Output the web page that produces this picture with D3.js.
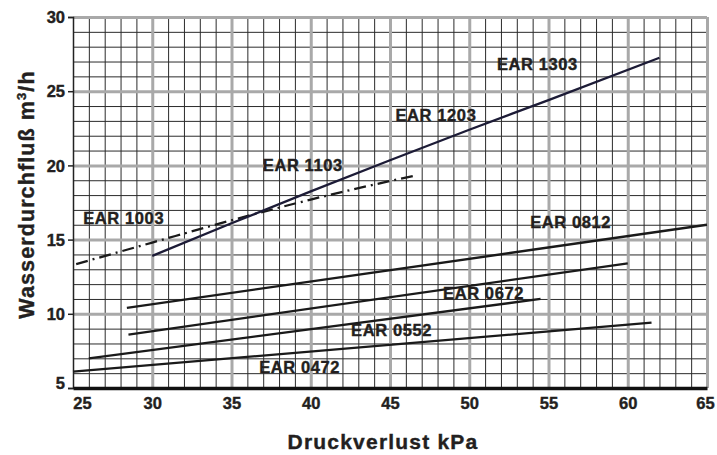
<!DOCTYPE html>
<html>
<head>
<meta charset="utf-8">
<script src="https://cdn.jsdelivr.net/npm/d3@7"></script>
<style>
  body { margin: 0; background: #fff; }
  text { font-family: "Liberation Sans", Arial, sans-serif; font-weight: bold; fill: #231f20; }
</style>
</head>
<body>
<div id="chart"></div>
<script>
// Data (Druckverlust kPa -> Wasserdurchfluss m3/h)
const xTicks = [25, 30, 35, 40, 45, 50, 55, 60, 65]
const yTicks = [5, 10, 15, 20, 25, 30]

const dp0472 = [25, 61.5],  q0472 = [6.1, 9.4]
const dp0552 = [26, 54.5],  q0552 = [7.0, 11.0]
const dp0672 = [28.5, 60],  q0672 = [8.6, 13.4]
const dp0812 = [28.4, 65],  q0812 = [10.4, 16.0]
// EAR 1003 / 1103 (dash-dot)
const dp1003 = [25.2, 30, 35, 40, 46.5], q1003 = [13.35, 14.8, 16.3, 17.7, 19.3]
// EAR 1103 / 1203 / 1303 (solid)
const dp1303 = [30, 35, 40, 45, 50, 55, 62], q1303 = [13.9, 16.1, 18.25, 20.35, 22.4, 24.4, 27.25]

const labels = ['EAR 1303', 'EAR 1203', 'EAR 1103', 'EAR 1003', 'EAR 0812', 'EAR 0672', 'EAR 0552', 'EAR 0472']
const labelDp = [54.3, 47.9, 39.5, 28.2, 56.4, 50.9, 45.1, 39.3]
const labelQ = [26.8, 23.4, 20.0, 16.45, 16.15, 11.4, 8.9, 6.4]

const width = 717,
      height = 455,
      mLeft = 73, mRight = 707, mTop = 17, mBottom = 388

let svg = d3.select('#chart')
  .append('svg')
  .attr('width', width)
  .attr('height', height)

let x = d3.scaleLinear().domain([25, 65]).range([mLeft, mRight])
let y = d3.scaleLinear().domain([5, 30]).range([mBottom, mTop])

// minor grid
svg.append('g')
  .attr('transform', `translate(0,${mBottom})`)
  .call(d3.axisBottom(x).tickValues(d3.range(26, 65)).tickSize(-(mBottom - mTop)).tickFormat(''))
  .call(g => g.select('.domain').remove())
  .selectAll('line').attr('stroke', '#2b2b2b').attr('stroke-width', 1)

svg.append('g')
  .attr('transform', `translate(${mLeft},0)`)
  .call(d3.axisLeft(y).tickValues(d3.range(6, 30)).tickSize(-(mRight - mLeft)).tickFormat(''))
  .call(g => g.select('.domain').remove())
  .selectAll('line').attr('stroke', '#2b2b2b').attr('stroke-width', 1)

// major grid
svg.append('g')
  .attr('transform', `translate(0,${mBottom})`)
  .call(d3.axisBottom(x).tickValues(xTicks.slice(1)).tickSize(-(mBottom - mTop)).tickFormat(''))
  .call(g => g.select('.domain').remove())
  .selectAll('line').attr('stroke', '#a9a9a9').attr('stroke-width', 3)

svg.append('g')
  .attr('transform', `translate(${mLeft},0)`)
  .call(d3.axisLeft(y).tickValues(yTicks.slice(1)).tickSize(-(mRight - mLeft)).tickFormat(''))
  .call(g => g.select('.domain').remove())
  .selectAll('line').attr('stroke', '#a9a9a9').attr('stroke-width', 3)

let styleTick = sel => sel
  .attr('font-size', 16.5)
  .attr('font-weight', 'bold')
  .attr('fill', '#231f20')
  .attr('stroke', '#231f20')
  .attr('stroke-width', 0.4)
  .attr('font-family', '"Liberation Sans", Arial, sans-serif')

// left axis with ticks and labels
svg.append('g')
  .attr('transform', `translate(${mLeft},0)`)
  .call(d3.axisLeft(y).tickValues(yTicks).tickSize(5).tickPadding(3))
  .call(g => g.select('.domain').attr('stroke', '#222').attr('stroke-width', 1.5))
  .call(g => g.selectAll('line').attr('stroke', '#222').attr('stroke-width', 1.5))
  .call(g => g.selectAll('text').call(styleTick)
    .attr('dy', d => d === 5 ? '0' : '0.35em'))

// bottom axis
svg.append('g')
  .attr('transform', `translate(0,${mBottom})`)
  .call(d3.axisBottom(x).tickValues(xTicks).tickSize(0).tickPadding(9))
  .call(g => g.select('.domain').attr('stroke', '#111').attr('stroke-width', 3.5))
  .call(g => g.selectAll('text').call(styleTick)
    .attr('dx', d => d === 25 ? 9 : (d === 65 ? -2 : 0)))

// curves
let line = d3.line().x(d => x(d[0])).y(d => y(d[1])).curve(d3.curveMonotoneX)
let series = [
  { dp: dp0472, q: q0472, dash: null, color: '#1a1a1a' },
  { dp: dp0552, q: q0552, dash: null, color: '#1a1a1a' },
  { dp: dp0672, q: q0672, dash: null, color: '#1a1a1a' },
  { dp: dp0812, q: q0812, dash: null, color: '#1a1a1a' },
  { dp: dp1003, q: q1003, dash: '12,5,2,5', color: '#1a1a1a' },
  { dp: dp1303, q: q1303, dash: null, color: '#1c1b36' }
]
series.forEach(s => {
  svg.append('path')
    .datum(d3.zip(s.dp, s.q))
    .attr('d', line)
    .attr('fill', 'none')
    .attr('stroke', s.color)
    .attr('stroke-width', 2.3)
    .attr('stroke-dasharray', s.dash)
})

// curve labels
svg.selectAll('.lbl')
  .data(labels)
  .enter()
  .append('text')
  .attr('class', 'lbl')
  .attr('x', (d, i) => x(labelDp[i]))
  .attr('y', (d, i) => y(labelQ[i]))
  .attr('dy', '0.36em')
  .attr('text-anchor', 'middle')
  .attr('font-size', 16.5)
  .attr('letter-spacing', 0.6)
  .attr('stroke', '#231f20')
  .attr('stroke-width', 0.4)
  .text(d => d)

// axis titles
svg.append('text')
  .attr('x', 383)
  .attr('y', 449)
  .attr('text-anchor', 'middle')
  .attr('font-size', 21)
  .attr('letter-spacing', 1.2)
  .attr('stroke', '#231f20')
  .attr('stroke-width', 0.4)
  .text('Druckverlust kPa')

let yt = svg.append('text')
  .attr('transform', `translate(34,${(mTop + mBottom) / 2 - 8}) rotate(-90)`)
  .attr('text-anchor', 'middle')
  .attr('font-size', 21.5)
  .attr('letter-spacing', 1.1)
  .attr('stroke', '#231f20')
  .attr('stroke-width', 0.4)
yt.append('tspan').text('Wasserdurchfluß m')
yt.append('tspan').attr('font-size', 13).attr('dy', -8).text('3')
yt.append('tspan').attr('dy', 8).text('/h')
</script>
</body>
</html>
